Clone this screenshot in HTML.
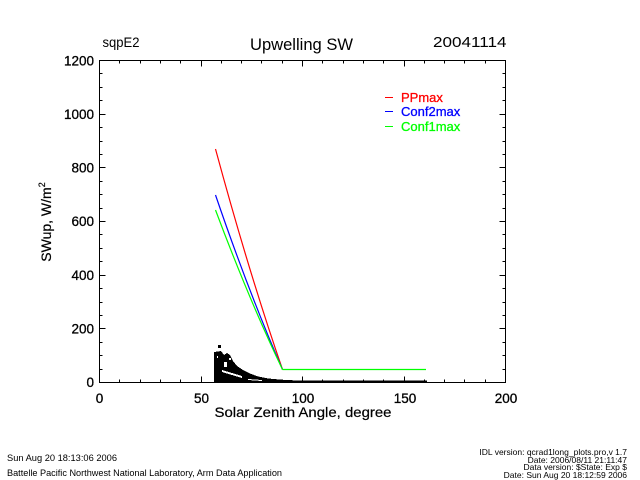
<!DOCTYPE html>
<html>
<head>
<meta charset="utf-8">
<style>
  html, body { margin: 0; padding: 0; background: #fff; }
  body { width: 640px; height: 480px; overflow: hidden; }
  svg { display: block; }
  text { font-family: "Liberation Sans", "DejaVu Sans", sans-serif; fill: #000; }
</style>
</head>
<body>
<svg width="640" height="480" viewBox="0 0 640 480" xmlns="http://www.w3.org/2000/svg">
  <rect x="0" y="0" width="640" height="480" fill="#fff"/>

  <!-- Titles -->
  <text x="102.5" y="47" font-size="13.5" textLength="37" lengthAdjust="spacingAndGlyphs">sqpE2</text>
  <text x="301.5" y="50" font-size="17" text-anchor="middle" textLength="103" lengthAdjust="spacingAndGlyphs">Upwelling SW</text>
  <text x="433" y="47" font-size="15" textLength="73.5" lengthAdjust="spacingAndGlyphs">20041114</text>

  <!-- Axes box -->
  <g stroke="#000" stroke-width="1" fill="none" shape-rendering="crispEdges">
    <rect x="99.5" y="60.5" width="406" height="322"/>
    <path d="
      M99.5 382.5 v-6 M119.5 382.5 v-3 M140.5 382.5 v-3 M160.5 382.5 v-3 M180.5 382.5 v-3
      M201.5 382.5 v-6 M221.5 382.5 v-3 M241.5 382.5 v-3 M261.5 382.5 v-3 M282.5 382.5 v-3
      M302.5 382.5 v-6 M322.5 382.5 v-3 M343.5 382.5 v-3 M363.5 382.5 v-3 M383.5 382.5 v-3
      M404.5 382.5 v-6 M424.5 382.5 v-3 M444.5 382.5 v-3 M464.5 382.5 v-3 M485.5 382.5 v-3
      M505.5 382.5 v-6
      M99.5 60.5 v6 M119.5 60.5 v3 M140.5 60.5 v3 M160.5 60.5 v3 M180.5 60.5 v3
      M201.5 60.5 v6 M221.5 60.5 v3 M241.5 60.5 v3 M261.5 60.5 v3 M282.5 60.5 v3
      M302.5 60.5 v6 M322.5 60.5 v3 M343.5 60.5 v3 M363.5 60.5 v3 M383.5 60.5 v3
      M404.5 60.5 v6 M424.5 60.5 v3 M444.5 60.5 v3 M464.5 60.5 v3 M485.5 60.5 v3
      M505.5 60.5 v6
    "/>
    <path d="
      M99.5 382.5 h6 M99.5 369.5 h3 M99.5 355.5 h3 M99.5 342.5 h3
      M99.5 328.5 h6 M99.5 315.5 h3 M99.5 302.5 h3 M99.5 288.5 h3
      M99.5 275.5 h6 M99.5 261.5 h3 M99.5 248.5 h3 M99.5 234.5 h3
      M99.5 221.5 h6 M99.5 208.5 h3 M99.5 194.5 h3 M99.5 181.5 h3
      M99.5 167.5 h6 M99.5 154.5 h3 M99.5 141.5 h3 M99.5 127.5 h3
      M99.5 114.5 h6 M99.5 100.5 h3 M99.5 87.5 h3 M99.5 73.5 h3
      M99.5 60.5 h6
      M505.5 382.5 h-6 M505.5 369.5 h-3 M505.5 355.5 h-3 M505.5 342.5 h-3
      M505.5 328.5 h-6 M505.5 315.5 h-3 M505.5 302.5 h-3 M505.5 288.5 h-3
      M505.5 275.5 h-6 M505.5 261.5 h-3 M505.5 248.5 h-3 M505.5 234.5 h-3
      M505.5 221.5 h-6 M505.5 208.5 h-3 M505.5 194.5 h-3 M505.5 181.5 h-3
      M505.5 167.5 h-6 M505.5 154.5 h-3 M505.5 141.5 h-3 M505.5 127.5 h-3
      M505.5 114.5 h-6 M505.5 100.5 h-3 M505.5 87.5 h-3 M505.5 73.5 h-3
      M505.5 60.5 h-6
    "/>
  </g>

  <!-- Y tick labels -->
  <g font-size="13.5" text-anchor="end" style="stroke:#000;stroke-width:0.3">
    <text x="94" y="387">0</text>
    <text x="94" y="333.5">200</text>
    <text x="94" y="280">400</text>
    <text x="94" y="226">600</text>
    <text x="94" y="172.5">800</text>
    <text x="94" y="119">1000</text>
    <text x="94" y="65.5">1200</text>
  </g>

  <!-- X tick labels -->
  <g font-size="13.5" text-anchor="middle" style="stroke:#000;stroke-width:0.3">
    <text x="99.5" y="403">0</text>
    <text x="201.5" y="403">50</text>
    <text x="303" y="403">100</text>
    <text x="405" y="403">150</text>
    <text x="506" y="403">200</text>
  </g>

  <!-- Axis titles -->
  <text x="303" y="417" font-size="14" text-anchor="middle" textLength="177" lengthAdjust="spacingAndGlyphs" style="stroke:#000;stroke-width:0.2">Solar Zenith Angle, degree</text>
  <text transform="translate(51,222) rotate(-90)" font-size="14" text-anchor="middle" style="stroke:#000;stroke-width:0.2">SWup, W/m<tspan dy="-6" font-size="9">2</tspan></text>

  <!-- Scatter data (black) -->
  <g fill="#000" shape-rendering="crispEdges">
    <rect x="218" y="345" width="3" height="3"/>
    <polygon points="214,352 221,351 224,355 227,353 230,355 233,361 237,366 243,370 250,373.5 258,376.5 268,378.5 285,380 300,380.5 427,380.5 427,382.5 214,382.5"/>
  </g>
  <g fill="#fff" shape-rendering="crispEdges">
    <rect x="224" y="362" width="3" height="5"/>
    <polygon points="222,370 242,376 242,378 222,372"/>
    <rect x="217" y="356" width="1" height="2"/>
    <rect x="229" y="358" width="2" height="2"/>
    <polygon points="248,379 262,380 262,381 248,380"/>
  </g>

  <!-- Curves -->
  <g fill="none" stroke-width="1.2">
    <path d="M215.5 149 Q249 272.7 282.5 369.5" stroke="#ff0000"/>
    <path d="M215.5 195 Q249 293 282.5 369.5" stroke="#0000ff"/>
    <path d="M215.5 210 Q249 299.5 282.5 369.5" stroke="#00ff00"/>
    <path d="M282.5 369.5 H426" stroke="#00ff00"/>
  </g>

  <!-- Legend -->
  <g stroke-width="1.2" shape-rendering="crispEdges">
    <line x1="385" y1="97.5" x2="393" y2="97.5" stroke="#ff0000"/>
    <line x1="385" y1="111.5" x2="393" y2="111.5" stroke="#0000ff"/>
    <line x1="385" y1="126.5" x2="393" y2="126.5" stroke="#00ff00"/>
  </g>
  <g font-size="13">
    <text x="401" y="102" style="fill:#ff0000;stroke:#ff0000;stroke-width:0.3">PPmax</text>
    <text x="401" y="116" style="fill:#0000ff;stroke:#0000ff;stroke-width:0.3">Conf2max</text>
    <text x="401" y="131" style="fill:#00ff00;stroke:#00ff00;stroke-width:0.3">Conf1max</text>
  </g>

  <!-- Footer left -->
  <text x="7" y="461" font-size="9" textLength="110" lengthAdjust="spacingAndGlyphs">Sun Aug 20 18:13:06 2006</text>
  <text x="7" y="476" font-size="9" textLength="275" lengthAdjust="spacingAndGlyphs">Battelle Pacific Northwest National Laboratory, Arm Data Application</text>

  <!-- Footer right -->
  <g font-size="8.5" text-anchor="end">
    <text x="627" y="455">IDL version: qcrad1long_plots.pro,v 1.7</text>
    <text x="627" y="463">Date: 2006/08/11 21:11:47</text>
    <text x="627" y="470">Data version: $State: Exp $</text>
    <text x="627" y="478">Date: Sun Aug 20 18:12:59 2006</text>
  </g>
</svg>
</body>
</html>
